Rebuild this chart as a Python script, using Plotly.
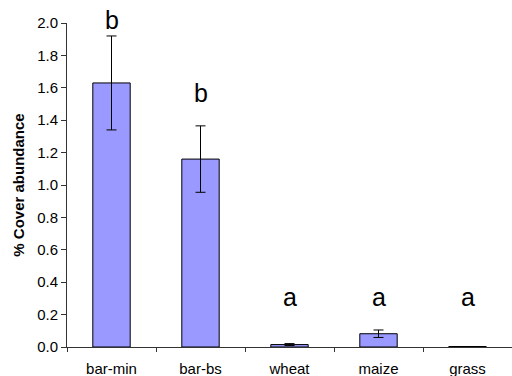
import plotly.graph_objects as go

categories = ["bar-min", "bar-bs", "wheat", "maize", "grass"]
values = [1.63, 1.16, 0.015, 0.082, 0.003]
errors = [0.29, 0.205, 0.006, 0.023, 0.0]
letters = ["b", "b", "a", "a", "a"]
letter_y = [2.02, 1.57, 0.31, 0.31, 0.31]
y_max = 2.0

fig = go.Figure()
fig.add_trace(go.Bar(
    x=categories, y=values,
    marker=dict(color="#9999FF", line=dict(color="black", width=1)),
    error_y=dict(type="data", array=errors, color="black", thickness=1, width=5, visible=True),
    width=0.42,
))
for c, t, yy in zip(categories, letters, letter_y):
    fig.add_annotation(x=c, y=yy / y_max, text=t, showarrow=False, xref="x", yref="paper",
                       yanchor="middle", xanchor="center",
                       font=dict(size=25, color="black", family="Liberation Sans, Arial"))

fig.update_layout(
    width=512, height=376,
    margin=dict(l=67, r=0, t=23, b=29, autoexpand=False),
    paper_bgcolor="white", plot_bgcolor="white",
    showlegend=False,
    font=dict(family="Liberation Sans, Arial", color="black", size=15),
)
fig.update_xaxes(
    range=[-0.5, 4.5], showline=True, linecolor="#333", linewidth=1,
    ticks="outside", tickson="boundaries", ticklen=4, tickcolor="#333",
    tickfont=dict(size=15), showgrid=False, ticklabelstandoff=8, automargin=False,
)
fig.update_yaxes(
    range=[0, y_max], dtick=0.2, tickformat=".1f", showline=True, linecolor="#333", linewidth=1,
    ticks="outside", ticklen=5, tickcolor="#333", showgrid=False, zeroline=False,
    tickfont=dict(size=15), automargin=False,
    title=dict(text="<b>% Cover abundance</b>", font=dict(size=15), standoff=8),
)
fig.write_html("out.html")
